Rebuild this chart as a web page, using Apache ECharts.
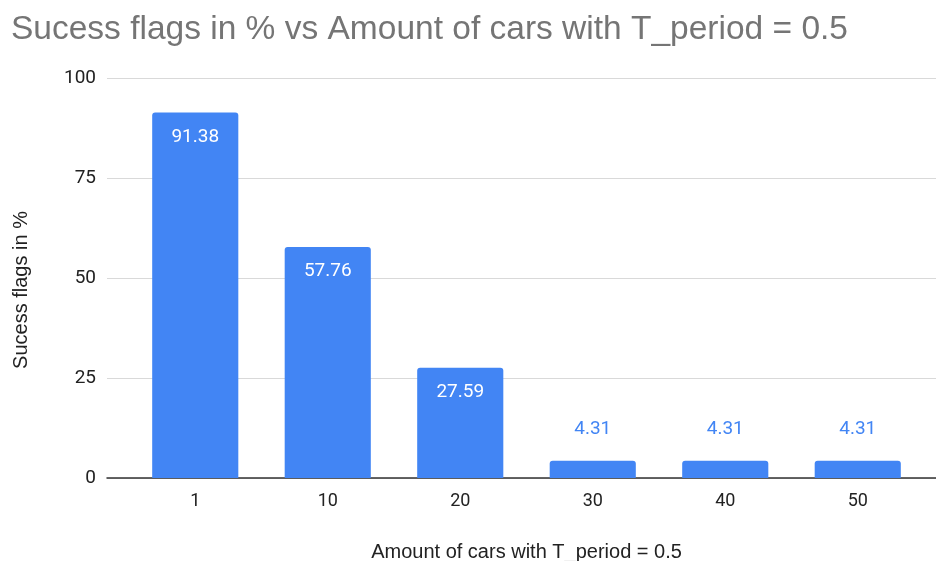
<!DOCTYPE html>
<html>
<head>
<meta charset="utf-8">
<script src="https://cdn.jsdelivr.net/npm/echarts@6/dist/echarts.min.js"></script>
<style>
  html, body { margin: 0; padding: 0; background: #fff; }
  #chart { width: 936px; height: 561px; }
</style>
</head>
<body>
<div id="chart"></div>
<script>
// Success rate per car count, T_period = 0.5
const carCounts = ['1', '10', '20', '30', '40', '50'];
const successPct = [91.38, 57.76, 27.59, 4.31, 4.31, 4.31];
const yTicks = { min: 0, max: 100, interval: 25 };

const BAR = '#4285F4';

const barData = successPct.map(v => ({
  value: v,
  label: v >= 10
    ? { position: 'insideTop', distance: 15, color: '#ffffff' }
    : { position: 'top', distance: 22, color: BAR }
}));

const chart = echarts.init(document.getElementById('chart'), null, { renderer: 'canvas' });

chart.setOption({
  animation: false,
  backgroundColor: '#ffffff',
  title: {
    text: 'Sucess flags in % vs Amount of cars with T_period = 0.5',
    left: 6,
    top: 8,
    textStyle: {
      fontFamily: 'Liberation Sans, Arial, sans-serif',
      fontWeight: 'normal',
      fontSize: 33.5,
      color: '#757575'
    }
  },
  grid: [
    // frame: gridlines, tick labels and baseline
    { left: 107, right: 0, top: 78, bottom: 83, containLabel: false, outerBoundsMode: 'none' },
    // bars
    { left: 129, right: 12, top: 78, bottom: 83, containLabel: false, outerBoundsMode: 'none' }
  ],
  xAxis: [
    {
      gridIndex: 0, type: 'value', min: 0, max: 1,
      axisLine: { show: true, onZero: false, lineStyle: { color: '#333333', width: 1.5 } },
      axisTick: { show: false }, axisLabel: { show: false }, splitLine: { show: false }
    },
    {
      gridIndex: 1, type: 'category', data: carCounts,
      axisLine: { show: false }, axisTick: { show: false },
      axisLabel: {
        margin: 14, fontFamily: 'Roboto, sans-serif', fontSize: 18, color: '#222222'
      },
      name: 'Amount of cars with T_period = 0.5',
      nameLocation: 'middle',
      nameGap: 64,
      nameTextStyle: { fontFamily: 'Liberation Sans, Arial, sans-serif', fontSize: 20, color: '#222222' }
    }
  ],
  yAxis: [
    {
      gridIndex: 0, type: 'value',
      min: yTicks.min, max: yTicks.max, interval: yTicks.interval,
      axisLine: { show: false }, axisTick: { show: false },
      axisLabel: { margin: 11, fontFamily: 'Roboto, sans-serif', fontSize: 19, color: '#222222' },
      splitLine: { lineStyle: { color: '#d9d9d9', width: 1.2 } },
      name: 'Sucess flags in %',
      nameLocation: 'middle',
      nameGap: 76,
      nameRotate: 90,
      nameTextStyle: {
        fontFamily: 'Liberation Sans, Arial, sans-serif', fontSize: 20, color: '#222222',
        padding: [0, 24, 0, 0]
      }
    },
    {
      gridIndex: 1, type: 'value',
      min: yTicks.min, max: yTicks.max, interval: yTicks.interval,
      show: false
    }
  ],
  series: [{
    type: 'bar',
    xAxisIndex: 1,
    yAxisIndex: 1,
    data: barData,
    barCategoryGap: '35%',
    itemStyle: { color: BAR, borderRadius: [3, 3, 0, 0] },
    label: {
      show: true,
      fontFamily: 'Roboto, sans-serif',
      fontSize: 19,
      formatter: p => p.value.toFixed(2)
    }
  }]
});
</script>
</body>
</html>
